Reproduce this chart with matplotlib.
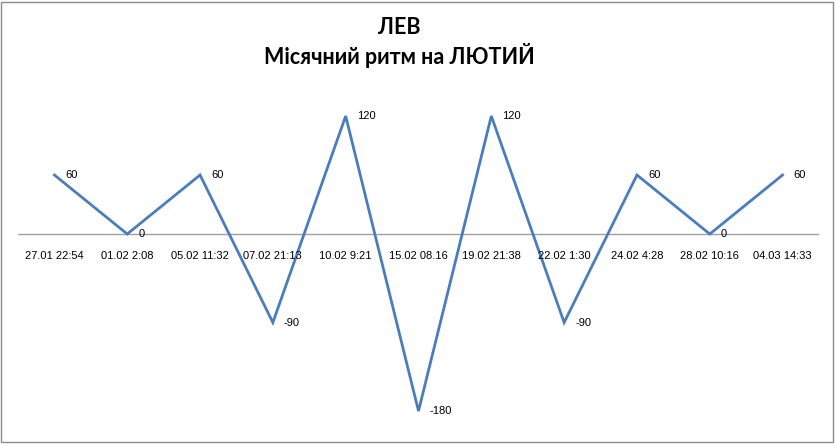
import matplotlib
matplotlib.use("Agg")
import matplotlib.pyplot as plt
from matplotlib.patches import Rectangle

categories = ["27.01 22:54", "01.02 2:08", "05.02 11:32", "07.02 21:13", "10.02 9:21",
              "15.02 08.16", "19.02 21:38", "22.02 1:30", "24.02 4:28", "28.02 10:16", "04.03 14:33"]
values = [60, 0, 60, -90, 120, -180, 120, -90, 60, 0, 60]
title_lines = ["ЛЕВ", "Місячний ритм на ЛЮТИЙ"]

plt.rcParams['font.family'] = ['Liberation Sans', 'DejaVu Sans']

fig = plt.figure(figsize=(8.36, 4.44), dpi=100)
ax = fig.add_axes([18/836, 1 - 430.7/444, (819-18)/836, (430.7-86.5)/444])
x = list(range(len(categories)))
ax.plot(x, values, color='#4A7EBB', linewidth=2.0, solid_joinstyle='miter')
ax.set_xlim(-0.5, len(categories) - 0.5)
ax.set_ylim(-200, 150)
ax.axhline(0, color='#A0A0A0', linewidth=1.0, zorder=0)
for s in ax.spines.values():
    s.set_visible(False)
ax.set_xticks([])
ax.set_yticks([])
for xi, v, lab in zip(x, values, categories):
    ax.annotate(str(v), (xi, v), xytext=(8, 0), textcoords='offset points',
                ha='left', va='center', fontsize=8, color='black')
    ax.annotate(lab, (xi, 0), xytext=(0, -16), textcoords='offset points',
                ha='center', va='center', fontsize=8, color='black')

tfont = ['Lato', 'Liberation Sans', 'DejaVu Sans']
fig.text(399/836, 1 - 28/444, title_lines[0], ha='center', va='center', fontsize=15.5,
         fontweight='bold', family=tfont)
fig.text(399/836, 1 - 56/444, title_lines[1], ha='center', va='center', fontsize=15.5,
         fontweight='bold', family=tfont)

fig.patches.append(Rectangle((1/836, 2/444), 832/836, 440/444, transform=fig.transFigure,
                             fill=False, edgecolor='#8C8C8C', linewidth=1.0))
fig.savefig("out.png", dpi=100)
